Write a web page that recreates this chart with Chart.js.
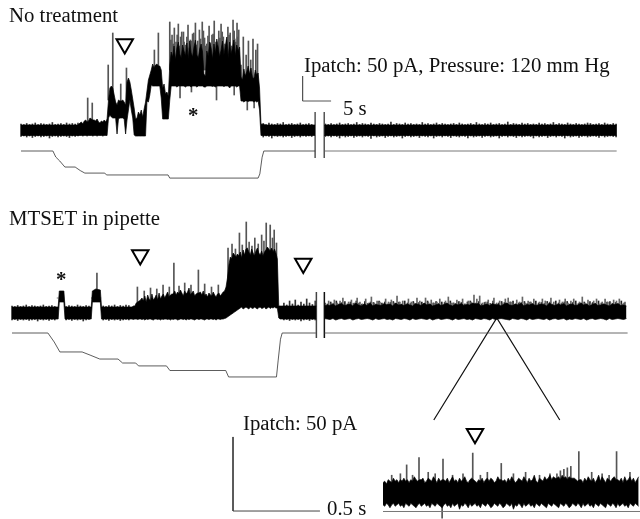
<!DOCTYPE html>
<html>
<head>
<meta charset="utf-8">
<title>Patch clamp traces</title>
<script src="https://cdn.jsdelivr.net/npm/chart.js@4"></script>
<style>
    body { margin: 0; background: #fff; width: 640px; height: 519px; overflow: hidden; position: relative; }
    canvas { position: absolute; left: 0; }
    #topPanel { top: 0; }
    #bottomPanel { top: 190px; }
    #insetPanel { top: 400px; }
    .label { position: absolute; font: 20.8px/1 "Liberation Serif", serif; color: #111; white-space: nowrap; }
    .star { font-weight: bold; }
</style>
</head>
<body>
<canvas id="topPanel" width="640" height="190"></canvas>
<canvas id="bottomPanel" width="640" height="240"></canvas>
<canvas id="insetPanel" width="640" height="119"></canvas>
<div class="label" style="left:9px;top:5px">No treatment</div>
<div class="label" style="left:304px;top:55px">Ipatch: 50 pA, Pressure: 120 mm Hg</div>
<div class="label" style="left:343px;top:98px">5 s</div>
<div class="label star" style="left:188px;top:105px">*</div>
<div class="label" style="left:9px;top:208px">MTSET in pipette</div>
<div class="label star" style="left:56px;top:269px">*</div>
<div class="label" style="left:243px;top:413px">Ipatch: 50 pA</div>
<div class="label" style="left:327px;top:498px">0.5 s</div>
<script>
// All values: time in s, current in pA, pressure in mm Hg

// No treatment, sweep before the break
const topRestTimes = [0, 10];
const topRestUpper = [10, 10];
const topRestLower = [-11, -11];
const topFuzzStep = 0.5;
const topRestFuzzHigh = [12, 11, 13, 11, 12, 14, 11, 13, 12, 11, 12, 15, 11, 12, 13, 11, 14, 12, 13, 12, 14];
const topRestFuzzLow = [-13, -12, -14, -12, -15, -13, -12, -14, -13, -12, -16, -13, -12, -14, -13, -12, -13, -15, -12, -13, -12];
const topBurstStart = 10.35;
const topBurstStep = 0.25;
const topBurstUpper = [
    14, 16, 12, 18, 20, 16, 18, 24, 22, 20, 20, 18, 22, 16,
    14, 18, 16, 20, 16, 22,
    60, 84, 88, 84, 70, 56, 50, 60, 58, 58, 60, 56, 50, 96, 104, 96, 80, 62, 44, 22, 24, 36,
    30, 40, 26, 42, 56, 78, 100, 110, 120, 132, 124, 130, 132, 128, 128, 120, 84, 92, 72, 76, 68, 130,
    156, 146, 168, 140, 164, 176, 152, 144, 170, 158, 148, 174, 142, 178, 154, 146, 166, 180, 150, 144,
    162, 172, 156, 112, 108, 158, 148, 176, 164, 142, 172, 154, 182, 166, 146, 160, 178, 150, 168, 186,
    144, 176, 152, 164, 180, 148, 170, 158, 166,
    106, 100, 122, 108, 116, 128, 112, 124, 106, 102, 120, 110, 114, 84,
    12
];
const topBurstLower = [
    -11, -11, -12, -11, -11, -12, -11, -11, -11, -12, -11, -11, -12, -11,
    -11, -11, -12, -11, -11, -11,
    24, 30, 26, 24, 24, 24, -8, 22, 24, 24, 24, 22, -8, 20, 40, 60, 40, 24, -10, -12, -12, -12,
    -12, -12, -12, -12, -12, 58, 56, 70, 90, 88, 88, 88, 88, 88, 88, 64, 22, 22, 22, 22, 22, 60,
    88, 88, 88, 88, 86, 88, 88, 88, 88, 88, 86, 88, 88, 88, 86, 88, 88, 88, 86, 88,
    88, 88, 88, 86, 86, 88, 88, 88, 88, 87, 88, 86, 88, 88, 88, 88, 88, 87, 88, 88,
    88, 84, 88, 88, 88, 88, 86, 88, 88,
    58, 58, 56, 58, 58, 57, 58, 58, 58, 56, 58, 56, 58, 40,
    -11
];
const topTailTimes = [43, 51.6];
const topTailUpper = [10, 10];
const topTailLower = [-11, -11];
const topTailFuzzStart = 42.5;
const topTailFuzzHigh = [13, 11, 14, 12, 11, 13, 12, 15, 11, 12, 13, 11, 12, 14, 11, 12, 13, 11];
const topTailFuzzLow = [-14, -12, -13, -16, -12, -13, -12, -14, -13, -12, -15, -13, -12, -14, -12, -13, -12, -13];
const topSpikeTimes = [
    11.7, 12.5, 15.3, 16.1, 17.5, 18.5, 23.4, 24.1,
    26.1, 26.5, 26.9, 27.2, 27.6, 28.0, 28.5, 28.8, 29.3, 29.7, 30.1, 30.6, 31, 31.3, 31.8, 32.2,
    32.6, 33, 33.5, 33.9, 34.2, 34.7, 35.1, 35.5, 35.9, 36.3, 36.7, 37.2, 37.5, 37.9, 38.2,
    26.3, 26.7, 27.4, 27.8, 28.2, 28.6, 29.1, 29.5, 29.9, 30.3, 30.8, 31.5, 32, 32.4, 32.8, 33.2,
    33.7, 34.4, 34.9, 35.3, 35.7, 36.1, 36.5, 36.9, 37.4, 37.7, 38,
    38.6, 39, 39.5, 39.9, 40.3, 40.7, 41.2, 41.5,
    27.9, 29.9, 34.3, 37.4, 39.7, 40.9
];
const topSpikeHigh = [
    64, 54, 130, 194, 92, 124, 160, 194,
    216, 190, 204, 176, 212, 186, 196, 170, 210, 180, 192, 214, 178, 200, 216, 184,
    172, 208, 190, 218, 176, 198, 212, 186, 170, 206, 194, 220, 182, 214, 200,
    180, 172, 190, 168, 196, 176, 186, 164, 178, 194, 170, 182, 198, 168, 188, 174,
    192, 166, 184, 196, 172, 180, 190, 168, 198, 176, 186,
    130, 186, 150, 178, 140, 182, 160, 172,
    90, 90, 90, 90, 60, 60
];
const topSpikeLow = [
    10, 10, 60, 60, 40, 60, 90, 90,
    120, 120, 120, 120, 120, 120, 120, 120, 120, 120, 120, 120, 120, 120, 120, 120,
    120, 120, 120, 120, 120, 120, 120, 120, 120, 120, 120, 120, 120, 120, 120,
    120, 120, 120, 120, 120, 120, 120, 120, 120, 120, 120, 120, 120, 120, 120, 120,
    120, 120, 120, 120, 120, 120, 120, 120, 120, 120, 120,
    90, 90, 90, 90, 90, 90, 90, 90,
    64, 76, 60, 70, 40, 44
];

// No treatment, sweep after the break
const topAfterTimes = [53.2, 104.5];
const topAfterUpper = [10, 10];
const topAfterLower = [-11, -11];
const topAfterFuzzStart = 53.4;
const topAfterFuzzHigh = [
    12, 11, 13, 11, 12, 14, 11, 12, 13, 11, 12, 15, 11, 13, 12, 11, 14, 12, 11, 13, 12, 11, 12, 16, 11, 13,
    12, 11, 14, 12, 13, 11, 12, 11, 15, 12, 13, 11, 12, 14, 11, 13, 12, 11, 12, 13, 11, 14, 12, 11, 12, 13,
    11, 15, 12, 11, 13, 12, 14, 11, 12, 13, 11, 12, 16, 11, 13, 12, 11, 14, 12, 13, 11, 12, 11, 14, 12, 13,
    11, 12, 15, 11, 13, 12, 11, 14, 12, 11, 13, 12, 11, 12, 14, 13, 11, 12, 13, 11, 14, 12, 11, 13, 12
];
const topAfterFuzzLow = [
    -13, -12, -14, -12, -13, -16, -12, -14, -13, -12, -15, -13, -12, -14, -12, -13, -17, -12, -14, -13, -12, -15, -13, -12, -14, -13,
    -12, -16, -13, -12, -14, -13, -12, -15, -12, -13, -14, -12, -16, -13, -12, -14, -12, -13, -15, -12, -13, -14, -12, -13, -16, -12,
    -14, -13, -12, -15, -13, -12, -14, -13, -12, -16, -13, -12, -14, -12, -13, -15, -12, -14, -13, -12, -13, -16, -12, -14, -13, -12,
    -15, -13, -12, -14, -12, -13, -16, -12, -14, -13, -12, -15, -13, -12, -14, -13, -12, -13, -15, -12, -14, -13, -12, -13, -14
];
const topPressureTimes = [0, 5.6, 6.1, 6.8, 7.7, 9.5, 10.4, 11.2, 14.7, 15, 25.8, 26.1, 41.6, 41.9, 42.3, 42.6, 51.6];
const topPressure = [0, 0, -29, -48, -77, -77, -94, -106, -106, -115, -115, -130, -130, -110, -30, 0, 0];
const topPressureAfterTimes = [53.2, 104.5];
const topPressureAfter = [0, 0];
const topMarkerTimes = [18.2];
const topMarkerPa = [172];
const topBreakTimes = [51.6, 53.2];
const topBreakPa = [36, -56];
const topBarTimes = [49.4, 49.4, 54.4];
const topBarPa = [108, 58, 58];

// MTSET in pipette, sweep before the break
const bottomRestTimes = [0, 8.1, 8.3, 9.1, 9.3, 13.9, 14.1, 14.7, 15.5, 15.7, 20.7];
const bottomRestUpper = [12, 12, 44, 44, 12, 12, 44, 48, 46, 12, 12];
const bottomRestLower = [-12, -12, 22, 22, -12, -12, 22, 22, 22, -12, -12];
const bottomRestFuzzStep = 0.5;
const bottomRestFuzzHigh = [
    14, 13, 15, 13, 14, 16, 13, 15, 14, 13, 14, 16, 13, 14, 15, 13,
    30, 30, 30, 13, 15, 14, 13, 16, 14, 13, 15, 14,
    30, 30, 30, 30, 14, 13, 15, 14, 16, 13, 15, 14, 16, 15
];
const bottomRestFuzzLow = [
    -14, -13, -15, -13, -14, -13, -15, -14, -13, -16, -13, -14, -13, -15, -13, -14,
    30, 30, 30, -14, -13, -15, -13, -14, -13, -16, -14, -13,
    30, 30, 30, 30, -14, -13, -15, -13, -14, -13, -15, -14, -13, -14
];
const bottomBurstStart = 21.05;
const bottomBurstStep = 0.25;
const bottomBurstUpper = [
    12, 14, 14, 20, 22, 24,
    26, 30, 24, 34, 22, 36, 28, 24, 38, 26, 30, 36, 26, 40, 28, 34, 38, 30, 36, 42, 32, 36,
    38, 38, 44, 36, 42, 38, 46, 40, 34, 44, 38, 42, 50, 36, 40, 44, 34, 38, 40, 40, 42, 36,
    44, 34, 38, 32, 40, 36, 34, 42, 36, 32, 38, 40, 34, 38, 42, 44, 52, 70,
    96, 112, 108, 120, 116, 112, 118, 114, 122, 110, 126, 116, 128, 130, 122, 116, 128, 120, 114, 124,
    130, 120, 116, 124, 114, 122, 126, 132, 128, 124, 130, 122, 128, 120, 108,
    14, 14, 14, 14
];
const bottomBurstLower = [
    -12, -13, -12, -12, -13, -12, -12, -13, -12, -14,
    -12, -13, -12, -12, -13, -14, -12, -12, -13, -12,
    -14, -12, -13, -12, -12, -13, -12, -14, -12, -13,
    -12, -12, -14, -13, -12, -12, -13, -12, -14, -12,
    -13, -12, -12, -13, -14, -12, -12, -13, -12, -12,
    -13, -14, -12, -12, -13, -12, -12, -13, -12, -14,
    -12, -12, -13, -12, -12, -11, -10,
    -8, -6, -4, -2, 0, 2, 4, 6, 8, 10, 12, 8, 10, 12, 10, 8, 12, 10, 9, 12,
    10, 8, 11, 12, 9, 10, 12, 8, 10, 12, 9, 11, 10, 12, 10, 10,
    -10, -12, -12, -12
];
const bottomTailTimes = [48.5, 53.4];
const bottomTailUpper = [14, 14];
const bottomTailLower = [-12, -12];
const bottomTailFuzzStart = 47.7;
const bottomTailFuzzHigh = [20, 16, 24, 18, 26, 16, 22, 18, 28, 20, 17, 24];
const bottomTailFuzzLow = [-14, -13, -15, -13, -14, -13, -16, -14, -13, -15, -13, -14];
const bottomSpikeTimes = [
    14.9, 22, 23.2, 24.3, 25.4, 26.5, 27.6, 28.4, 29.3, 30.3, 31.4, 32.7, 33.8, 35, 36.2,
    37.9, 38.6, 39.2, 39.9, 40.4, 41.1, 41.6, 42.1, 42.6, 43.2, 43.8, 44.2, 44.6, 45.3, 45.7, 46, 46.4
];
const bottomSpikeHigh = [
    80, 52, 44, 50, 48, 56, 52, 100, 54, 60, 56, 86, 58, 52, 56,
    130, 138, 128, 160, 136, 182, 142, 134, 150, 138, 156, 144, 180, 176, 150, 166, 140
];
const bottomSpikeLow = [
    40, 10, 10, 10, 10, 10, 10, 20, 10, 10, 10, 20, 10, 10, 10,
    60, 60, 60, 60, 60, 60, 60, 60, 60, 60, 60, 60, 60, 60, 60, 60, 60
];

// MTSET in pipette, sweep after the break
const bottomAfterStart = 54.8;
const bottomAfterStep = 0.5;
const bottomAfterUpper = [
    14, 16, 15, 18, 14, 17, 19, 15, 16, 18,
    14, 20, 16, 14, 18, 15, 20, 14, 17, 16,
    15, 19, 16, 18, 14, 20, 16, 17, 15, 18,
    16, 14, 19, 17, 15, 20, 16, 18, 14, 16,
    18, 15, 17, 20, 16, 14, 18, 16, 19, 15,
    17, 16, 20, 18, 19, 14, 16, 18, 15, 19,
    16, 17, 14, 18, 20, 16, 15, 18, 16, 20,
    14, 17, 16, 19, 15, 16, 18, 17, 14, 20,
    16, 15, 18, 16, 19, 14, 17, 18, 15, 16,
    20, 16, 18, 14, 17, 19, 15, 16, 18, 16,
    14, 18, 17, 19, 15, 16, 14
];
const bottomAfterLower = [
    -11, -12, -13, -11, -14, -12, -11, -13, -12, -11,
    -14, -12, -11, -13, -12, -11, -12, -14, -11, -13,
    -12, -11, -13, -12, -14, -11, -12, -13, -11, -12,
    -14, -11, -13, -12, -11, -12, -13, -11, -14, -12,
    -11, -13, -12, -11, -12, -14, -11, -13, -12, -11,
    -13, -12, -14, -11, -12, -13, -11, -12, -14, -11,
    -13, -12, -11, -12, -13, -14, -11, -12, -13, -11,
    -12, -14, -11, -13, -12, -11, -12, -13, -11, -14,
    -12, -11, -13, -12, -11, -14, -12, -13, -11, -12,
    -13, -11, -14, -12, -11, -13, -12, -11, -12, -14,
    -11, -13, -12, -11, -12, -13, -11
];
// fuzz above the band, strokes between the band samples
const bottomFuzzStart = 55.05;
const bottomFuzzHigh = [
    18, 24, 20, 26, 20, 24, 30, 18, 22, 26,
    20, 30, 22, 18, 28, 20, 32, 20, 24, 22,
    18, 28, 22, 26, 20, 34, 22, 24, 18, 28,
    22, 20, 30, 24, 18, 30, 22, 26, 20, 22,
    28, 18, 24, 32, 20, 20, 26, 22, 28, 18,
    24, 22, 36, 28, 34, 20, 22, 26, 18, 30,
    20, 24, 20, 28, 30, 22, 18, 26, 22, 32,
    20, 24, 22, 28, 18, 22, 28, 24, 20, 30,
    22, 18, 26, 22, 28, 20, 24, 28, 18, 22,
    32, 20, 26, 20, 24, 28, 18, 22, 28, 22,
    20, 26, 24, 28, 18, 22
];
const bottomFuzzLowerStart = 54.9;
const bottomFuzzLower = [
    20, 18, 22, 19, 24, 18, 21, 23, 18, 22,
    19, 24, 20, 18, 23, 19, 22, 21, 18, 24,
    20, 22, 18, 21, 23, 19, 22, 18, 24, 20,
    19, 23, 18, 21, 22, 19, 24, 18, 20, 23,
    19, 22, 21, 18, 24, 20, 19, 23, 21, 18,
    22, 24, 19, 20, 23, 18, 21, 22, 19, 24,
    18, 20, 23, 21, 19, 22, 24, 18, 20, 21,
    23, 19, 22, 18, 24, 20, 21, 19, 23, 22,
    18, 24, 20, 19, 22, 23, 18, 21, 24, 19,
    20, 22, 18, 23, 21, 19, 24, 20, 18, 22,
    23, 19, 21, 18, 24, 20
];
const bottomPressureTimes = [0, 6.3, 7.4, 8.4, 12.3, 13.7, 15.4, 18.6, 19.4, 21.7, 22.2, 27.1, 27.7, 37.5, 38, 46.4, 46.7, 47.1, 47.4, 53.3];
const bottomPressure = [0, 0, -43, -91, -91, -106, -125, -125, -144, -144, -158, -158, -180, -180, -211, -211, -130, -30, 0, 0];
const bottomPressureAfterTimes = [54.8, 108];
const bottomPressureAfter = [0, 0];
const bottomMarkerTimes = [22.5, 51.1];
const bottomMarkerPa = [116, 99];
const bottomBreakTimes = [53.4, 54.8];
const bottomBreakPa = [42, -50];
const zoomLineTimes = [74, 85.05, 96.1];
const zoomLinePa = [-214, -10, -214];

// Inset, expanded part of the MTSET sweep
const insetStart = 0;
const insetStep = 0.01;
const insetUpper = [
    7, 8, 6, 9, 8, 7, 10, 8, 9, 7,
    9, 8, 10, 8, 9, 7, 9, 8, 11, 9,
    8, 9, 9, 10, 7, 8, 10, 9, 8, 11,
    9, 7, 10, 8, 9, 9, 8, 10, 7, 9,
    11, 8, 9, 7, 10, 8, 9, 11, 8, 7,
    9, 10, 9, 8, 7, 9, 8, 10, 7, 9,
    10, 8, 10, 9, 7, 8, 11, 9, 9, 8,
    9, 7, 10, 8, 11, 9, 7, 8, 10, 9,
    8, 11, 9, 7, 10, 8, 9, 12, 8, 7,
    10, 9, 8, 11, 9, 10, 12, 9, 11, 10,
    10, 11, 9, 12, 10, 11, 9, 11, 10, 10,
    10, 9, 8, 9, 9, 7, 10, 8, 11, 9,
    8, 10, 7, 9, 12, 8, 11, 9, 7, 10,
    9, 8, 10, 11, 9, 9, 8, 10, 7, 11,
    8, 9, 11, 8, 10, 7, 9, 11
];
const insetLower = [
    -8, -9, -7, -8, -10, -8, -7, -9, -8, -7,
    -9, -8, -10, -7, -8, -9, -7, -8, -9, -10,
    -8, -7, -9, -8, -7, -9, -8, -10, -7, -8,
    -9, -7, -8, -9, -10, -8, -7, -9, -8, -10,
    -7, -9, -8, -7, -11, -8, -9, -7, -8, -10,
    -7, -9, -8, -7, -9, -8, -10, -7, -8, -9,
    -7, -8, -10, -9, -7, -8, -9, -7, -8, -10,
    -9, -7, -8, -9, -7, -11, -8, -9, -7, -8,
    -10, -7, -9, -8, -7, -9, -8, -10, -7, -8,
    -9, -7, -8, -9, -10, -7, -8, -9, -7, -8,
    -9, -10, -7, -8, -9, -7, -8, -10, -9, -7,
    -8, -9, -7, -8, -10, -7, -9, -8, -7, -9,
    -8, -10, -7, -8, -9, -7, -8, -9, -10, -7,
    -8, -9, -7, -8, -10, -7, -9, -8, -7, -9,
    -8, -10, -7, -8, -9, -7, -8, -9
];
const insetSpikeTimes = [
    0.136, 0.207, 0.345, 0.34, 0.516, 0.6, 0.68, 1.0, 1.02, 1.04, 1.06, 1.08, 1.126, 1.343,
    0.05, 0.1, 0.17, 0.26, 0.3, 0.4, 0.46, 0.56, 0.75, 0.82, 0.9, 0.96, 1.2, 1.26, 1.3, 1.42
];
const insetSpikeHigh = [
    19, 24, 23, 0, 27, 14, 20, 13, 15, 16, 17, 18, 28, 28,
    12, 13, 12, 14, 13, 12, 13, 12, 13, 14, 12, 13, 14, 13, 12, 14
];
const insetSpikeLow = [
    0, 0, 0, -17, 0, 0, 0, 0, 0, 0, 0, 0, 0, 0,
    0, 0, 0, 0, 0, 0, 0, 0, 0, 0, 0, 0, 0, 0, 0, 0
];
const insetPressureTimes = [0, 1.48];
const insetPressure = [0, 0];
const insetMarkerTimes = [0.529];
const insetMarkerPa = [40];
const insetBarTimes = [-0.8625, -0.8625, -0.3625];
const insetBarPa = [37.9, -12.2, -12.2];

/** Sample times for a stretch of trace recorded at a fixed step. */
const sampleTimes = (start, step, count) => Array.from({ length: count }, (_, i) => start + i * step);

const toPoints = (times, values) => values.map((value, i) => ({ x: times[i], y: value }));

/** Upper and lower edge of a noisy trace, black between them. */
function band(times, upper, lower) {
    return [
        { data: toPoints(times, upper), borderColor: '#000', backgroundColor: '#000', borderWidth: 0.7, fill: '+1' },
        { data: toPoints(times, lower), borderColor: '#000', borderWidth: 0.7, fill: false }
    ];
}

/** Thin single channel events, kept behind the band (last dataset is drawn first). */
function spikes(times, high, low, color) {
    return {
        type: 'bar',
        data: times.map((time, i) => ({ x: time, y: [low[i], high[i]] })),
        backgroundColor: color || '#555',
        barThickness: 1,
        grouped: false
    };
}

function line(times, values, color, width, yAxisID) {
    return { data: toPoints(times, values), borderColor: color, borderWidth: width, fill: false, yAxisID: yAxisID || 'y' };
}

function markers(times, values) {
    return {
        data: toPoints(times, values),
        showLine: false,
        pointStyle: 'triangle',
        rotation: 180,
        pointRadius: 9.5,
        pointBorderWidth: 2,
        pointBorderColor: '#000',
        pointBackgroundColor: '#fff'
    };
}

function drawPanel(id, xRange, yRange, pressureRange, datasets) {
    new Chart(document.getElementById(id), {
        type: 'line',
        data: { datasets: datasets },
        options: {
            responsive: false,
            animation: false,
            events: [],
            layout: { padding: 0, autoPadding: false },
            elements: { point: { radius: 0 }, line: { tension: 0, borderCapStyle: 'butt' } },
            plugins: { legend: { display: false }, tooltip: { enabled: false } },
            scales: {
                x: { type: 'linear', display: false, offset: false, min: xRange[0], max: xRange[1] },
                y: { display: false, min: yRange[0], max: yRange[1] },
                pressure: { display: false, min: pressureRange[0], max: pressureRange[1] }
            }
        }
    });
}

const topBurstTimes = sampleTimes(topBurstStart, topBurstStep, topBurstUpper.length);
const bottomBurstTimes = sampleTimes(bottomBurstStart, bottomBurstStep, bottomBurstUpper.length);

drawPanel('topPanel', [-21 / 5.7, 619 / 5.7], [-120, 260], [-187.2, 724.8], [
    markers(topMarkerTimes, topMarkerPa),
    ...band(topRestTimes.concat(topBurstTimes, topTailTimes),
        topRestUpper.concat(topBurstUpper, topTailUpper),
        topRestLower.concat(topBurstLower, topTailLower)),
    ...band(topAfterTimes, topAfterUpper, topAfterLower),
    line(topPressureTimes, topPressure, '#333', 0.8, 'pressure'),
    line(topPressureAfterTimes, topPressureAfter, '#555', 0.8, 'pressure'),
    line([topBreakTimes[0], topBreakTimes[0]], topBreakPa, '#555', 1.5),
    line([topBreakTimes[1], topBreakTimes[1]], topBreakPa, '#555', 1.5),
    line(topBarTimes, topBarPa, '#555', 1),
    spikes(topSpikeTimes, topSpikeHigh, topSpikeLow),
    spikes(sampleTimes(0, topFuzzStep, topRestFuzzHigh.length), topRestFuzzHigh, topRestFuzzLow, '#333'),
    spikes(sampleTimes(topTailFuzzStart, topFuzzStep, topTailFuzzHigh.length), topTailFuzzHigh, topTailFuzzLow, '#333'),
    spikes(sampleTimes(topAfterFuzzStart, topFuzzStep, topAfterFuzzHigh.length), topAfterFuzzHigh, topAfterFuzzLow, '#333')
]);

drawPanel('bottomPanel', [-12 / 5.7, 628 / 5.7], [-234, 246], [-465.6, 686.4], [
    markers(bottomMarkerTimes, bottomMarkerPa),
    ...band(bottomRestTimes.concat(bottomBurstTimes, bottomTailTimes),
        bottomRestUpper.concat(bottomBurstUpper, bottomTailUpper),
        bottomRestLower.concat(bottomBurstLower, bottomTailLower)),
    ...band(sampleTimes(bottomAfterStart, bottomAfterStep, bottomAfterUpper.length), bottomAfterUpper, bottomAfterLower),
    line(bottomPressureTimes, bottomPressure, '#333', 0.8, 'pressure'),
    line(bottomPressureAfterTimes, bottomPressureAfter, '#444', 0.8, 'pressure'),
    line([bottomBreakTimes[0], bottomBreakTimes[0]], bottomBreakPa, '#444', 1.5),
    line([bottomBreakTimes[1], bottomBreakTimes[1]], bottomBreakPa, '#111', 1.5),
    line(zoomLineTimes, zoomLinePa, '#111', 1.2),
    spikes(bottomSpikeTimes, bottomSpikeHigh, bottomSpikeLow),
    spikes(sampleTimes(0, bottomRestFuzzStep, bottomRestFuzzHigh.length), bottomRestFuzzHigh, bottomRestFuzzLow, '#333'),
    spikes(sampleTimes(bottomTailFuzzStart, bottomAfterStep, bottomTailFuzzHigh.length), bottomTailFuzzHigh, bottomTailFuzzLow, '#333'),
    spikes(sampleTimes(bottomFuzzStart, bottomAfterStep, bottomFuzzHigh.length), bottomFuzzHigh, new Array(bottomFuzzHigh.length).fill(0), '#666'),
    spikes(sampleTimes(bottomFuzzLowerStart, bottomAfterStep, bottomFuzzLower.length), bottomFuzzLower, new Array(bottomFuzzLower.length).fill(0), '#222')
]);

drawPanel('insetPanel', [-383 * 0.00575, 257 * 0.00575], [-17.6, 62.9], [-36, 535], [
    markers(insetMarkerTimes, insetMarkerPa),
    ...band(sampleTimes(insetStart, insetStep, insetUpper.length), insetUpper, insetLower),
    line(insetPressureTimes, insetPressure, '#777', 1, 'pressure'),
    line(insetBarTimes, insetBarPa, '#444', 1),
    spikes(insetSpikeTimes, insetSpikeHigh, insetSpikeLow)
]);
</script>
</body>
</html>
